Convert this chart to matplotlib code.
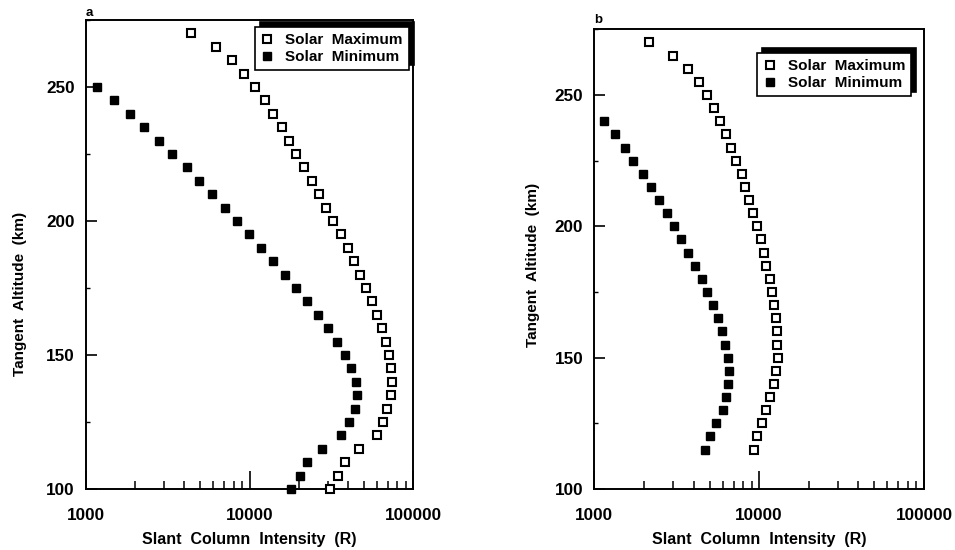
import matplotlib
matplotlib.use("Agg")
import matplotlib.pyplot as plt
from matplotlib.ticker import FixedLocator, LogLocator, MultipleLocator, NullFormatter

plt.rcParams['font.family'] = ['Liberation Sans', 'DejaVu Sans']
plt.rcParams['font.weight'] = 'bold'

# Panel a: tangent altitudes (km) and slant column intensities (R)
alt_max_a = [270, 265, 260, 255, 250, 245, 240, 235, 230, 225, 220, 215, 210, 205,
             200, 195, 190, 185, 180, 175, 170, 165, 160, 155, 150, 145, 140, 135,
             130, 125, 120, 115, 110, 105, 100]
int_max_a = [4370, 6240, 7850, 9300, 10850, 12440, 13930, 15740, 17510, 19330,
             21640, 24110, 26730, 29500, 32570, 36110, 39870, 43770, 47410, 51580,
             56360, 60250, 64620, 68370, 71300, 73660, 74420, 73050, 69620, 65290,
             59970, 46950, 38540, 34920, 31060]

alt_min_a = [250, 245, 240, 235, 230, 225, 220, 215, 210, 205, 200, 195, 190, 185,
             180, 175, 170, 165, 160, 155, 150, 145, 140, 135, 130, 125, 120, 115,
             110, 105, 100]
int_min_a = [1173, 1477, 1850, 2263, 2796, 3357, 4130, 4911, 5924, 7050, 8350, 9930,
             11810, 13930, 16490, 19330, 22580, 26130, 30200, 34300, 38390, 41940,
             44620, 45620, 43970, 40760, 36430, 27750, 22380, 20280, 17860]

# Panel b
alt_max_b = [270, 265, 260, 255, 250, 245, 240, 235, 230, 225, 220, 215, 210, 205,
             200, 195, 190, 185, 180, 175, 170, 165, 160, 155, 150, 145, 140, 135,
             130, 125, 120, 115]
int_max_b = [2160, 2997, 3727, 4290, 4822, 5320, 5810, 6290, 6750, 7270, 7870, 8240,
             8720, 9180, 9710, 10310, 10760, 11020, 11580, 12030, 12320, 12670, 12900,
             12900, 12960, 12600, 12250, 11650, 11020, 10410, 9710, 9260]

alt_min_b = [240, 235, 230, 225, 220, 215, 210, 205, 200, 195, 190, 185, 180, 175,
             170, 165, 160, 155, 150, 145, 140, 135, 130, 125, 120, 115]
int_min_b = [1145, 1331, 1530, 1726, 1969, 2211, 2485, 2779, 3051, 3380, 3727, 4094,
             4470, 4795, 5216, 5594, 5950, 6231, 6471, 6590, 6471, 6319, 6000, 5470,
             5029, 4709]

x_ticks = [1000, 10000, 100000]
x_tick_labels = ['1000', '10000', '100000']
y_ticks = [100, 150, 200, 250]

fig = plt.figure(figsize=(9.55, 5.5), dpi=100)
W, H = 955, 550


def px_axes(l, t, r, b):
    return fig.add_axes([l / W, 1 - b / H, (r - l) / W, (b - t) / H])


ax_a = px_axes(86, 20, 413, 489)
ax_b = px_axes(594.3, 29.3, 924, 489)

# (axes, tag, tag y, series..., legend anchor, y-label coords)
panels = [
    (ax_a, 'a', 1.0085, alt_max_a, int_max_a, alt_min_a, int_min_a,
     (0.988, 0.985), (-0.180, 0.416)),
    (ax_b, 'b', 1.0137, alt_max_b, int_max_b, alt_min_b, int_min_b,
     (0.962, 0.948), (-0.165, 0.487)),
]

for ax, tag, tag_y, amax, imax, amin, imin, lpos, ylab in panels:
    ax.plot(imax, amax, linestyle='none', marker='s', ms=6.2, mfc='white',
            mec='black', mew=1.5, label='Solar  Maximum', zorder=3, clip_on=False)
    ax.plot(imin, amin, linestyle='none', marker='s', ms=6.2, mfc='black',
            mec='black', mew=1.0, label='Solar  Minimum', zorder=3, clip_on=False)

    ax.set_xscale('log')
    ax.set_xlim(1000, 100000)
    ax.set_ylim(100, 275)
    ax.xaxis.set_major_locator(FixedLocator(x_ticks))
    ax.set_xticklabels(x_tick_labels)
    ax.xaxis.set_minor_locator(LogLocator(base=10, subs=range(2, 10)))
    ax.xaxis.set_minor_formatter(NullFormatter())
    ax.yaxis.set_major_locator(FixedLocator(y_ticks))
    ax.yaxis.set_minor_locator(MultipleLocator(25))

    for s in ax.spines.values():
        s.set_linewidth(1.4)

    ax.tick_params(axis='x', which='major', direction='in', length=13, width=1.2,
                   labelsize=12.3, pad=14)
    ax.tick_params(axis='x', which='minor', direction='in', length=6, width=1.1)
    ax.tick_params(axis='y', which='major', direction='in', length=8, width=1.2,
                   labelsize=12.3, pad=8)
    ax.tick_params(axis='y', which='minor', direction='in', length=3, width=1.0)
    for lab in ax.get_xticklabels() + ax.get_yticklabels():
        lab.set_fontweight('bold')

    ax.set_xlabel('Slant  Column  Intensity  (R)', fontsize=11.5, fontweight='bold',
                  labelpad=6)
    ax.set_ylabel('Tangent  Altitude  (km)', fontsize=11, fontweight='bold')
    ax.yaxis.set_label_coords(*ylab)
    ax.text(0.0, tag_y, tag, transform=ax.transAxes, fontsize=9.5,
            fontweight='bold', ha='left', va='baseline')

    leg = ax.legend(loc='upper right', bbox_to_anchor=lpos, borderaxespad=0,
                    fancybox=False, framealpha=1, edgecolor='black',
                    shadow={'ox': 3.5, 'oy': 3.5, 'facecolor': 'black',
                            'edgecolor': 'black', 'alpha': 1},
                    prop={'weight': 'bold', 'size': 11}, handlelength=0.8,
                    handletextpad=0.8, borderpad=0.4, labelspacing=0.2,
                    numpoints=1)
    leg.get_frame().set_linewidth(1.2)

fig.savefig('out.png', dpi=100)
